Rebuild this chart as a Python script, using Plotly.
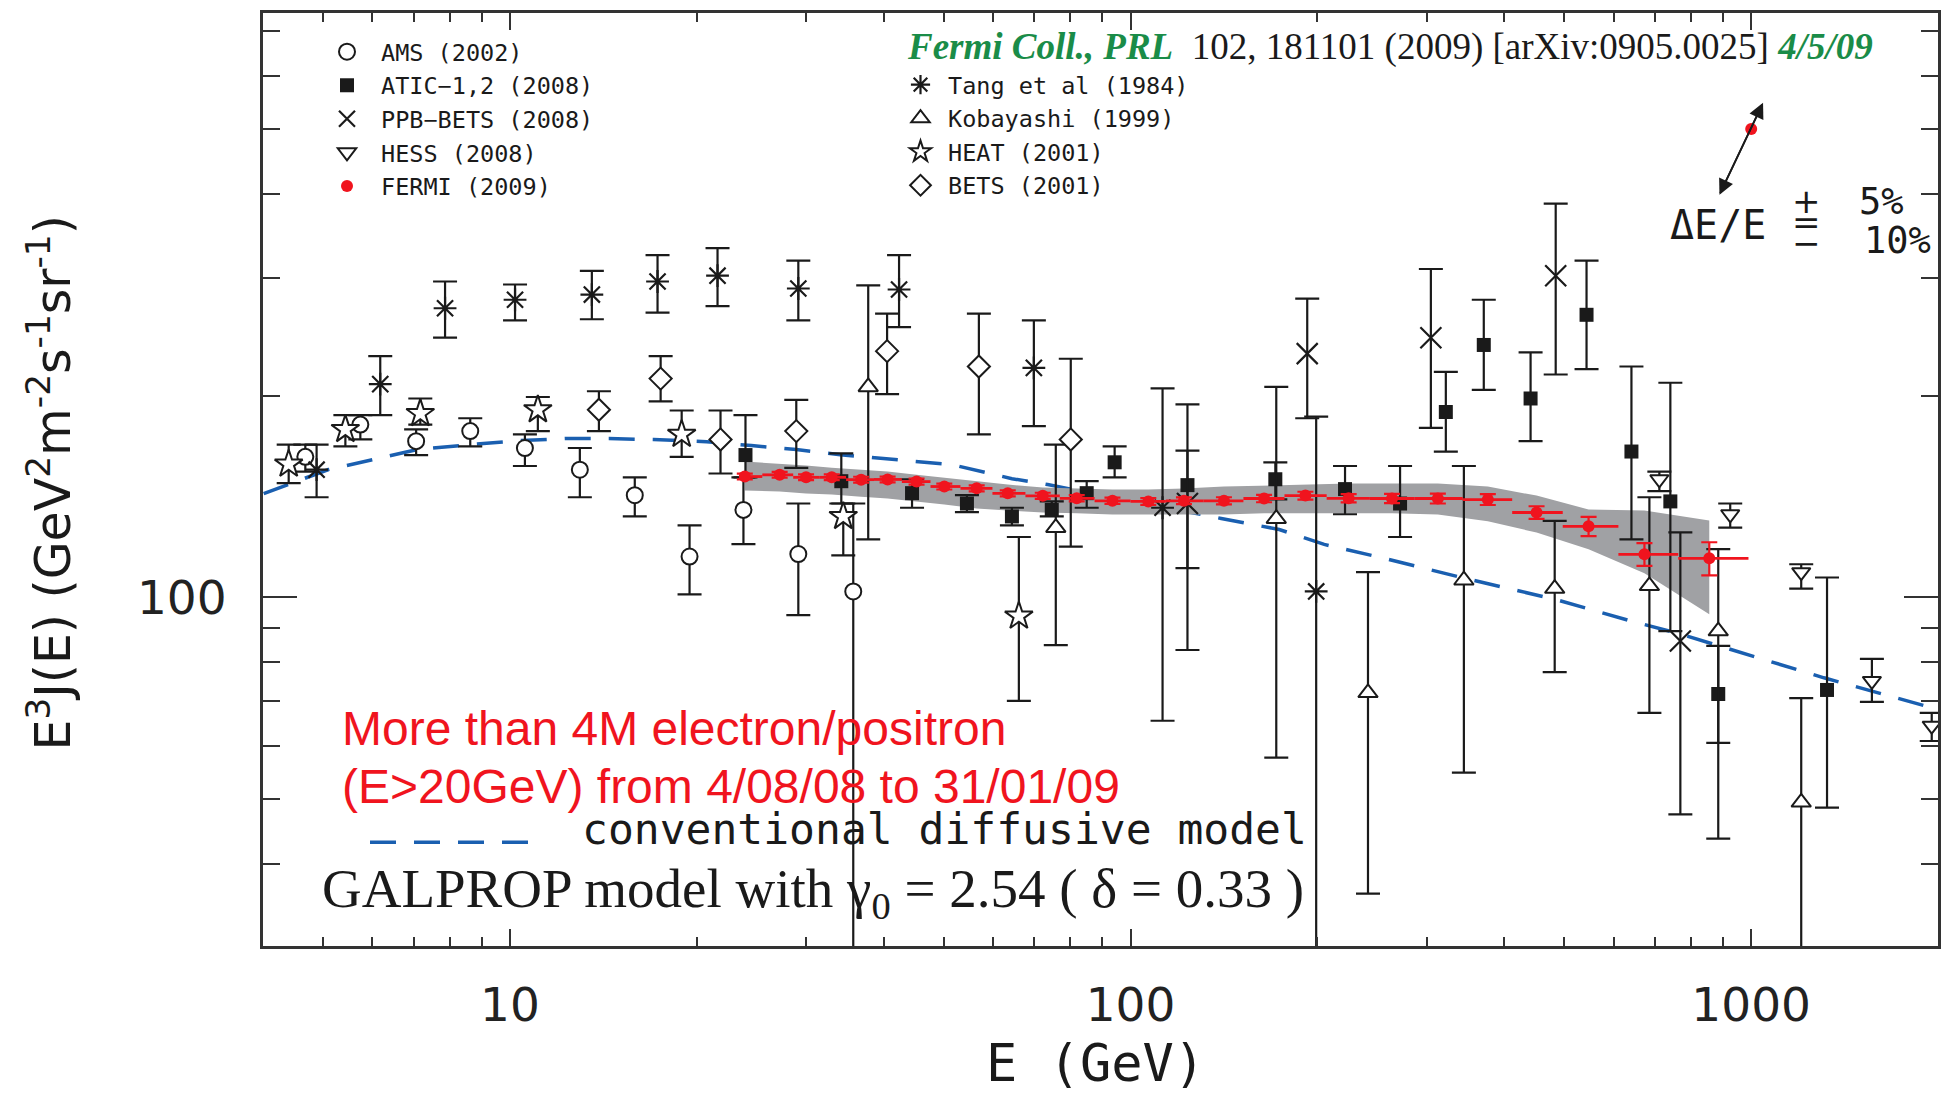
import math
import plotly.graph_objects as go

# ---------------- data ----------------
ams_E  = [4.68, 5.74, 7.06, 8.63, 10.57, 12.96, 15.89, 19.47, 23.78, 29.15, 35.74]
ams_V  = [162, 181, 171, 177, 167, 155, 142, 115, 135, 116, 102]
ams_hi = [169, 187, 178, 185, 175, 167, 151, 128, 151, 138, 138]
ams_lo = [154, 172, 163, 168, 157, 141, 132, 101, 120, 94, 20]

atic_E  = [23.96, 34.19, 44.45, 54.49, 64.39, 74.65, 84.98, 94.26, 123.5, 171.1,
           221.6, 271.8, 322.1, 370.8, 441.1, 542.9, 641.3, 740.9, 885.0, 1325]
atic_V  = [163, 149, 143, 138, 132, 135, 143, 159, 147, 150,
           145, 138, 189, 238, 198, 264, 165, 139, 71.7, 72.7]
atic_hi = [187, 164, 150, 142, 136, 139, 149, 168, 165.5, 159,
           157, 157, 217, 278, 232, 318, 221, 209, 84.6, 107]
atic_lo = [151, 138, 136, 134, 128, 132, 136, 151, 110.5, 140,
           133, 123, 165, 204, 171, 219, 122, 89.0, 60.6, 48.5]

ppb_E  = [123.5, 192.6, 304.7, 484.2, 768.9]
ppb_V  = [138, 231, 244, 302, 86.0]
ppb_hi = [194, 279, 309, 387, 125]
ppb_lo = [83.4, 185, 179, 215, 47.4]

hess_E  = [711.3, 925.2, 1204, 1565, 1954]
hess_V  = [150, 133, 109, 75.0, 64.3]
hess_hi = [154, 138, 112, 80.9, 67.2]
hess_lo = [144, 127, 103, 69.8, 61.0]

tang_E  = [4.88, 6.18, 7.86, 10.19, 13.55, 17.29, 21.60, 29.15, 42.36, 69.85, 112.6, 199.1]
tang_V  = [155, 208, 270, 278, 283, 296, 302, 289, 288, 220, 136, 102]
tang_hi = [169, 229, 296, 293, 307, 324, 332, 318, 324, 259, 205, 186]
tang_lo = [141, 187, 244, 259, 260, 266, 272, 259, 253, 180, 65.4, 20]

kob_E  = [37.78, 75.77, 171.7, 241.3, 344.4, 482.4, 685.5, 885.0, 1204]
kob_V  = [206, 127, 131, 72.0, 106, 103, 104, 89.0, 49.4]
kob_hi = [292, 169, 206, 109, 157, 130, 141, 118, 70.7]
kob_lo = [122, 84.8, 57.6, 36.1, 54.7, 77.3, 67.2, 43.6, 20]

heat_E  = [4.40, 5.43, 7.17, 11.09, 18.91, 34.44, 66.07]
heat_V  = [158, 178, 188, 190.5, 175, 132, 93.7]
heat_hi = [169, 187, 198, 199, 190, 138, 123]
heat_lo = [148, 168, 181, 177, 162, 115.5, 70.0]

bets_E  = [13.91, 17.49, 21.84, 28.93, 40.52, 56.96, 80.10]
bets_V  = [190.5, 212, 172, 177, 233, 221, 172]
bets_hi = [203, 229, 190, 197, 265, 265, 227]
bets_lo = [177, 196, 153, 156, 201, 175, 119]

fermi_E = [23.9, 27.2, 30.0, 33.0, 36.8, 40.6, 45.2, 50.1, 56.5, 63.4, 72.2, 81.9, 93.5,
           106.8, 121.9, 141.4, 164.1, 191.3, 224.6, 263.8, 312.7, 376.4, 451.0, 547.0, 673.0, 856.0]
fermi_V = [151.4, 152.3, 151.0, 151.0, 149.8, 149.9, 148.8, 146.3, 145.4, 142.9, 141.7, 140.5, 139.3,
           139.0, 139.3, 139.3, 140.4, 141.8, 140.5, 140.4, 140.4, 139.9, 133.8, 127.6, 115.9, 114.3]
fermi_err = [1.5, 1.5, 1.5, 1.5, 1.5, 1.5, 1.5, 1.5, 1.5, 1.5, 1.5, 1.5, 1.5,
             1.6, 1.6, 1.7, 1.8, 1.9, 2.0, 2.2, 2.4, 2.6, 2.9, 4.2, 4.5, 6.5]
fermi_bin_edges = [23.4, 25.5, 28.6, 31.5, 34.8, 38.6, 42.8, 47.6, 53.2, 59.9, 67.7, 76.9, 87.5, 100,
                   114, 131, 152, 177, 207, 243, 287, 343, 412, 497, 611, 763, 990]
band_hi = [159.4, 158.3, 157.2, 156.1, 155.1, 154.0, 152.4, 150.9, 148.8, 147.3, 145.8, 145.3, 144.8,
           144.8, 145.3, 146.3, 146.8, 147.3, 147.8, 147.8, 147.8, 146.3, 141.8, 135.2, 134.7, 130.2]
band_lo = [144.3, 143.8, 142.8, 142.3, 141.3, 140.4, 139.0, 137.5, 135.7, 134.7, 133.8, 133.4, 132.9,
           132.9, 132.9, 132.9, 133.4, 133.4, 133.4, 133.4, 132.9, 129.8, 124.9, 117.9, 108.6, 94.3]

model_E = [4.01, 5.10, 6.11, 7.09, 8.66, 10.38, 12.26, 14.43, 17.04, 20.74, 24.49, 28.93, 34.06, 41.59,
           51.55, 64.4, 73.5, 140.0, 173.6, 205.1, 256.1, 345.7, 482.4, 641.2, 768.9, 1310, 1954]
model_V = [142.8, 155.1, 161.0, 166.1, 169.0, 171.3, 172.5, 172.5, 171.9, 170.7, 168.4, 166.1, 163.2, 160.5,
           157.7, 150.3, 147.3, 131.1, 126.2, 119.9, 114.3, 106.7, 99.3, 92.1, 88.1, 75.8, 68.4]

# energy-resolution illustration (dot and arrow tips)
res_E, res_V = [1000], [500]
res_up_E, res_up_V = 1045, 547
res_dn_E, res_dn_V = 889, 399

x_range = [4, 2000]
y_range = [30.15, 745]
x_tickvals = [10, 100, 1000]
x_ticktext = ["10", "100", "1000"]
x_minor = [5, 6, 7, 8, 9, 20, 30, 40, 50, 60, 70, 80, 90, 200, 300, 400, 500, 600, 700, 800, 900]
y_tickvals = [100]
y_ticktext = ["100"]
y_minor = [40, 50, 60, 70, 80, 90, 200, 300, 400, 500, 600, 700]

# ---------------- styling ----------------
INK = "#1a1a1a"
FRAME = "#333333"
RED = "#f0141e"
BLUE = "#1a5fb0"
GREEN = "#1a8c48"
SANS = "DejaVu Sans"
MONO = "DejaVu Sans Mono"
W, H = 1956, 1093
ML, MR, MT, MB = 263, 18, 10, 147
PW, PH = W - ML - MR, H - MT - MB


def px(xp):
    return (xp - ML) / PW


def py(yp):
    return (H - MB - yp) / PH


def errs(v, hi, lo):
    return dict(type="data", symmetric=False,
                array=[h - a for a, h in zip(v, hi)],
                arrayminus=[a - l for a, l in zip(v, lo)],
                color=INK, thickness=2.2, width=12)


fig = go.Figure()

# conventional diffusive model (dashed)
fig.add_trace(go.Scatter(x=model_E, y=model_V, mode="lines", showlegend=False,
                         line=dict(color=BLUE, width=3.5, dash="26px,18px"), hoverinfo="skip"))

# systematic band
fig.add_trace(go.Scatter(x=fermi_E + fermi_E[::-1], y=band_hi + band_lo[::-1], mode="lines",
                         fill="toself", fillcolor="rgb(160,161,164)", line=dict(width=0),
                         showlegend=False, hoverinfo="skip"))


def series(E, V, hi, lo, name, marker, legend):
    fig.add_trace(go.Scatter(x=E, y=V, mode="markers", name=name, legend=legend,
                             error_y=errs(V, hi, lo), marker=marker))


open_line = dict(color=INK, width=2)
series(ams_E, ams_V, ams_hi, ams_lo, "AMS (2002)",
       dict(symbol="circle", size=16, color="white", line=open_line), "legend")
series(atic_E, atic_V, atic_hi, atic_lo, "ATIC\u22121,2 (2008)",
       dict(symbol="square", size=14, color=INK, line=dict(width=0)), "legend")
series(ppb_E, ppb_V, ppb_hi, ppb_lo, "PPB\u2212BETS (2008)",
       dict(symbol="x-thin-open", size=21, color=INK, line=dict(color=INK, width=2.2)), "legend")
series(hess_E, hess_V, hess_hi, hess_lo, "HESS (2008)",
       dict(symbol="triangle-down", size=16, color="white", line=open_line), "legend")
series(tang_E, tang_V, tang_hi, tang_lo, "Tang et al (1984)",
       dict(symbol="asterisk-open", size=19, color=INK, line=dict(color=INK, width=2.2)), "legend2")
series(kob_E, kob_V, kob_hi, kob_lo, "Kobayashi (1999)",
       dict(symbol="triangle-up", size=17, color="white", line=open_line), "legend2")
series(heat_E, heat_V, heat_hi, heat_lo, "HEAT (2001)",
       dict(symbol="star", size=21, color="white", line=open_line), "legend2")
series(bets_E, bets_V, bets_hi, bets_lo, "BETS (2001)",
       dict(symbol="diamond", size=17, color="white", line=open_line), "legend2")

# FERMI
fig.add_trace(go.Scatter(
    x=fermi_E, y=fermi_V, mode="markers", name="FERMI (2009)", legend="legend",
    marker=dict(symbol="circle", size=12, color=RED, line=dict(width=0)),
    error_y=dict(type="data", array=fermi_err, color=RED, thickness=2.2, width=8),
    error_x=dict(type="data", symmetric=False,
                 array=[fermi_bin_edges[i + 1] - e for i, e in enumerate(fermi_E)],
                 arrayminus=[e - fermi_bin_edges[i] for i, e in enumerate(fermi_E)],
                 color=RED, thickness=2.8, width=0)))

# energy resolution dot
fig.add_trace(go.Scatter(x=res_E, y=res_V, mode="markers", showlegend=False,
                         marker=dict(size=12, color=RED), hoverinfo="skip"))

lx, ly = math.log10, math.log10
annotations = [
    dict(x=lx(res_up_E), y=ly(res_up_V), ax=lx(res_dn_E), ay=ly(res_dn_V), xref="x", yref="y",
         axref="x", ayref="y", showarrow=True, arrowhead=2, arrowsize=1.7, arrowwidth=1.8,
         arrowcolor=INK, text=""),
    dict(x=lx(res_dn_E), y=ly(res_dn_V), ax=lx(res_up_E), ay=ly(res_up_V), xref="x", yref="y",
         axref="x", ayref="y", showarrow=True, arrowhead=2, arrowsize=1.7, arrowwidth=1.8,
         arrowcolor=INK, text=""),
]


def txt(text, xp, yp, size, family=SANS, color=INK, xanchor="left", angle=0):
    annotations.append(dict(text=text, x=px(xp), y=py(yp), xref="paper", yref="paper",
                            xanchor=xanchor, yanchor="middle", showarrow=False, textangle=angle,
                            font=dict(family=family, size=size, color=color)))


txt("E<sup>3</sup>J(E) (GeV<sup>2</sup>m<sup>-2</sup>s<sup>-1</sup>sr<sup>-1</sup>)", 50, 482, 49,
    xanchor="center", angle=-90)
txt("E (GeV)", 1095, 1063, 52, family=MONO, xanchor="center")
txt("More than 4M electron/positron", 340, 728, 48, family="Liberation Sans", color=RED)
txt("(E&gt;20GeV) from 4/08/08 to 31/01/09", 340, 786, 48, family="Liberation Sans", color=RED)
txt("conventional diffusive model", 580, 829, 43, family=MONO)
txt("GALPROP model with \u03b3<sub>0</sub> = 2.54 ( \u03b4 = 0.33 )", 320, 892, 55,
    family="Liberation Serif")
txt('<b><i><span style="color:%s">Fermi Coll., PRL</span></i></b>\u00a0\u00a0102, 181101 (2009) '
    '[arXiv:0905.0025] <b><i><span style="color:%s">4/5/09</span></i></b>' % (GREEN, GREEN),
    905, 44, 37, family="Liberation Serif")
txt("\u0394E/E", 1668, 223, 40, family=MONO)
txt("+", 1806, 199, 34, xanchor="center")
txt("=", 1806, 220, 34, xanchor="center")
txt("\u2212", 1806, 241, 34, xanchor="center")
txt("5%", 1857, 199, 37, family=MONO)
txt("10%", 1862, 238, 37, family=MONO)

shapes = [dict(type="line", xref="paper", yref="paper", x0=px(370), x1=px(534), y0=py(842), y1=py(842),
               line=dict(color=BLUE, width=3.5, dash="26px,18px"))]

axis_common = dict(type="log", showgrid=False, zeroline=False, showline=True, linecolor=FRAME,
                   linewidth=3, mirror="allticks", ticks="inside", tickcolor=FRAME, tickwidth=2,
                   tickfont=dict(family=SANS, size=47, color="#222"))

legend_font = dict(family=MONO, size=23.5, color=INK)
fig.update_layout(
    width=W, height=H, margin=dict(l=ML, r=MR, t=MT, b=MB),
    paper_bgcolor="white", plot_bgcolor="white",
    xaxis=dict(axis_common, range=[math.log10(x_range[0]), math.log10(x_range[1])],
               tickvals=x_tickvals, ticktext=x_ticktext, ticklen=17, ticklabelstandoff=16,
               minor=dict(tickvals=x_minor, ticks="inside", ticklen=9, tickwidth=2, tickcolor=FRAME)),
    yaxis=dict(axis_common, range=[math.log10(y_range[0]), math.log10(y_range[1])],
               tickvals=y_tickvals, ticktext=y_ticktext, ticklen=34, ticklabelstandoff=24,
               minor=dict(tickvals=y_minor, ticks="inside", ticklen=17, tickwidth=2, tickcolor=FRAME)),
    legend=dict(x=px(313), y=py(27), xanchor="left", yanchor="top", bgcolor="rgba(0,0,0,0)",
                font=legend_font, itemwidth=58, tracegroupgap=0),
    legend2=dict(x=px(893), y=py(60), xanchor="left", yanchor="top", bgcolor="rgba(0,0,0,0)",
                 font=legend_font, itemwidth=45, tracegroupgap=0),
    annotations=annotations, shapes=shapes, showlegend=True,
)

fig.write_html("out.html")
